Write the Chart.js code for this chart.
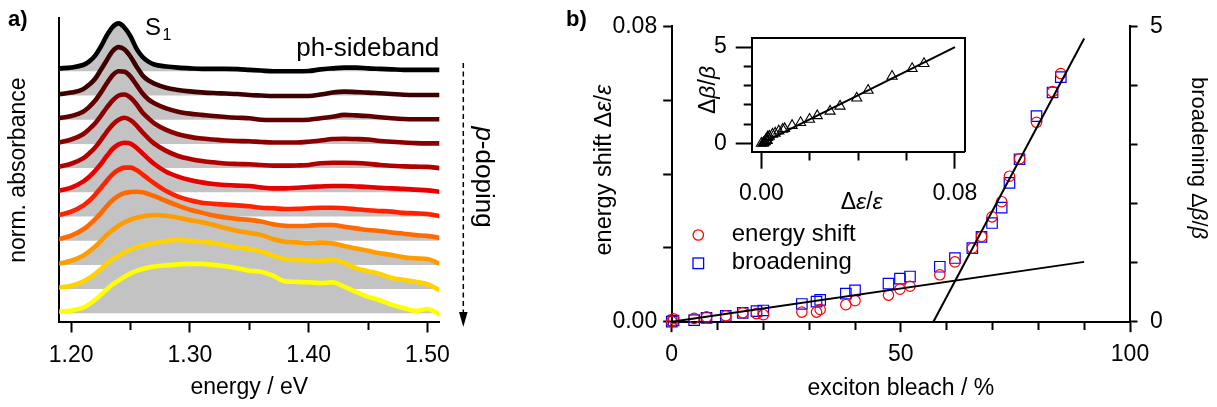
<!DOCTYPE html>
<html><head><meta charset="utf-8">
<script src="https://cdn.jsdelivr.net/npm/chart.js@4.4.1/dist/chart.umd.min.js"></script>
<style>
body{margin:0;background:#fff;}
#wrap{position:relative;width:1217px;height:407px;overflow:hidden;font-family:'Liberation Sans',Arial,sans-serif;color:#000;background:#fff;}
canvas{position:absolute;}
.t{position:absolute;white-space:nowrap;line-height:1;}
</style></head><body>
<div id="wrap">
<canvas id="ca" width="520" height="407" style="left:0;top:0"></canvas>
<canvas id="cb" width="637" height="407" style="left:580px;top:0"></canvas>
<canvas id="cc" width="300" height="200" style="left:690px;top:15px"></canvas>
<svg width="1217" height="407" style="position:absolute;left:0;top:0">
  <line x1="463.3" y1="63" x2="463.3" y2="314" stroke="#000" stroke-width="1.5" stroke-dasharray="5,3.5"/>
  <polygon points="459,312 467.6,312 463.3,327" fill="#000"/>
  <circle cx="698.3" cy="235" r="5.2" fill="none" stroke="#ff0000" stroke-width="1.3"/>
  <rect x="693" y="258" width="10.6" height="10.6" fill="none" stroke="#0000ff" stroke-width="1.3"/>
</svg>
</div>
<script>
// ---------------- panel a data ----------------
const energy = [1.19,1.20,1.21,1.215,1.22,1.225,1.23,1.235,1.24,1.245,1.25,1.255,1.26,1.265,1.27,1.28,1.29,1.30,1.31,1.32,1.33,1.34,1.35,1.36,1.37,1.38,1.39,1.40,1.41,1.42,1.43,1.44,1.45,1.46,1.47,1.48,1.49,1.50,1.51];
const spec0 = [0.06,0.08,0.13,0.20,0.32,0.51,0.74,0.92,0.99,0.90,0.72,0.47,0.30,0.20,0.14,0.10,0.075,0.06,0.05,0.05,0.05,0.045,0.03,0.015,0.0,0.0,0.0,0.005,0.04,0.06,0.075,0.075,0.06,0.05,0.04,0.03,0.03,0.03,0.03];
const spec1 = [0.025,0.06,0.13,0.22,0.34,0.53,0.73,0.92,1.0,0.95,0.80,0.60,0.42,0.31,0.245,0.16,0.115,0.085,0.065,0.05,0.04,0.03,0.01,0.0,-0.01,-0.01,-0.01,-0.01,0.02,0.06,0.08,0.07,0.06,0.045,0.03,0.015,0.01,0.01,0.01];
const spec2 = [0.03,0.075,0.165,0.26,0.39,0.56,0.75,0.92,1.0,0.99,0.89,0.72,0.545,0.42,0.34,0.235,0.165,0.125,0.10,0.075,0.055,0.04,0.03,0.0,-0.005,-0.005,-0.005,0.0,0.03,0.06,0.10,0.09,0.075,0.05,0.03,0.015,0.01,0.01,0.01];
const spec3 = [0.03,0.09,0.20,0.30,0.42,0.58,0.75,0.90,1.0,1.02,0.955,0.82,0.65,0.53,0.425,0.29,0.20,0.145,0.11,0.09,0.07,0.06,0.055,0.04,0.03,0.03,0.03,0.045,0.07,0.10,0.105,0.10,0.09,0.06,0.045,0.03,0.015,0.01,0.01];
const spec4 = [0.03,0.09,0.20,0.30,0.42,0.58,0.75,0.90,1.0,1.04,0.99,0.88,0.74,0.615,0.505,0.355,0.25,0.19,0.145,0.12,0.095,0.085,0.08,0.065,0.05,0.05,0.055,0.065,0.10,0.11,0.11,0.105,0.09,0.065,0.05,0.035,0.03,0.025,0.0];
const spec5 = [0.035,0.095,0.22,0.315,0.44,0.585,0.75,0.90,0.99,1.025,1.005,0.92,0.805,0.69,0.585,0.425,0.325,0.255,0.205,0.17,0.15,0.137,0.13,0.10,0.08,0.08,0.095,0.11,0.12,0.13,0.13,0.12,0.11,0.095,0.08,0.07,0.055,0.04,0.01];
const spec6 = [0.03,0.10,0.225,0.32,0.445,0.59,0.74,0.875,0.965,1.01,1.01,0.96,0.87,0.775,0.685,0.525,0.41,0.335,0.285,0.26,0.245,0.23,0.21,0.18,0.17,0.155,0.16,0.17,0.18,0.18,0.17,0.15,0.13,0.115,0.10,0.075,0.065,0.05,0.01];
const spec7 = [0.035,0.105,0.23,0.325,0.44,0.57,0.715,0.84,0.93,0.985,1.005,1.01,1.0,0.965,0.92,0.82,0.725,0.64,0.58,0.52,0.48,0.45,0.43,0.395,0.34,0.31,0.305,0.31,0.325,0.325,0.29,0.255,0.22,0.20,0.17,0.145,0.115,0.10,0.06];
const spec8 = [0.03,0.085,0.19,0.275,0.375,0.495,0.62,0.72,0.81,0.88,0.935,0.975,1.0,1.02,1.03,1.015,0.975,0.925,0.88,0.825,0.76,0.70,0.66,0.62,0.535,0.48,0.465,0.445,0.46,0.445,0.39,0.34,0.29,0.24,0.205,0.155,0.135,0.12,0.03];
const spec9 = [0.03,0.07,0.155,0.225,0.31,0.415,0.53,0.62,0.69,0.76,0.82,0.86,0.895,0.925,0.95,0.995,1.015,1.0,0.98,0.95,0.905,0.86,0.83,0.78,0.69,0.62,0.60,0.59,0.585,0.60,0.54,0.43,0.37,0.31,0.23,0.19,0.15,0.10,-0.02];
const spec10 = [0.035,0.055,0.115,0.185,0.275,0.38,0.495,0.60,0.675,0.755,0.825,0.875,0.915,0.945,0.965,0.99,1.01,1.02,1.02,1.0,0.97,0.93,0.88,0.86,0.78,0.66,0.65,0.64,0.625,0.64,0.55,0.44,0.34,0.27,0.175,0.11,0.05,0.09,-0.02];
const spectra = [spec0,spec1,spec2,spec3,spec4,spec5,spec6,spec7,spec8,spec9,spec10];
const curveColors = ['#000000','#3d0000','#5e0000','#880000','#b00000','#e60000','#ff2200','#ff6a00','#ff9c00','#ffd200','#ffff00'];
const energyTicks = [1.20,1.25,1.30,1.35,1.40,1.45,1.50];
const STEP = 0.5;

// ---------------- panel b data ----------------
const bleach      = [0, 0.4, 4.9, 7.6, 11.8, 15.5, 18.5, 20.0, 28.4, 31.6, 32.4, 38.0, 40.0, 47.3, 49.8, 52.0, 58.5, 61.8, 65.6, 67.6, 69.9, 72.0, 73.7, 75.9, 79.6, 83.1, 84.9];
const energyShift = [0.0, 0.0008, 0.0009, 0.0013, 0.0016, 0.0024, 0.0022, 0.0019, 0.0026, 0.0026, 0.0033, 0.0046, 0.0057, 0.0072, 0.0088, 0.0096, 0.0127, 0.0162, 0.0199, 0.0231, 0.0284, 0.0325, 0.0394, 0.0441, 0.0540, 0.0623, 0.0672];
const broadening  = [0.0, 0.02, 0.028, 0.066, 0.098, 0.148, 0.18, 0.19, 0.30, 0.34, 0.37, 0.475, 0.53, 0.645, 0.73, 0.765, 0.93, 1.078, 1.245, 1.435, 1.67, 1.93, 2.35, 2.75, 3.48, 3.88, 4.14];
const fitLowX = [0, 90],    fitLowY = [0, 0.0162];
const fitHighX = [57.1, 90], fitHighY = [0, 0.0767];
const insetFitX = [0, 0.08], insetFitY = [0, 5.0];
const bleachTicks = [0,10,20,30,40,50,60,70,80,90,100];
const shiftTicks = [0,0.02,0.04,0.06,0.08];
const broadTicks = [0,1,2,3,4,5];
const insetXTicks = [0,0.02,0.04,0.06,0.08];
const insetYTicks = [0,1,2,3,4,5];

// ---------------- setup ----------------
const FONT = "'Liberation Sans', Arial, sans-serif";
Chart.defaults.font.family = FONT;
Chart.defaults.color = '#000';
const pts = (xs, ys) => xs.map((x, i) => ({x: x, y: ys[i]}));
const near = (a, b) => Math.abs(a - b) < 1e-9;
const noPlug = {legend: {display: false}, tooltip: {enabled: false}};
// minor ticks are shortened with a dash pattern
const dashOut = (isMajor, m) => c => (c.tick && isMajor(c.tick.value)) ? [] : [m, 200];
const dashIn  = (isMajor, tl, m) => c => (c.tick && isMajor(c.tick.value)) ? [] : [0, tl - m, m, 200];

// ---------------- panel a ----------------
const isMajA = v => Math.abs(v * 10 - Math.round(v * 10)) < 1e-6;
const N = spectra.length;
new Chart(document.getElementById('ca'), {
  type: 'line',
  data: {datasets: spectra.map((s, i) => ({
    data: pts(energy, s.map(v => (N - 1 - i) * STEP + v)),
    borderColor: curveColors[i], borderWidth: 4.6, pointRadius: 0,
    fill: {value: (N - 1 - i) * STEP}, backgroundColor: '#c3c3c3',
    cubicInterpolationMode: 'monotone', borderJoinStyle: 'round', borderCapStyle: 'round'
  }))},
  options: {
    responsive: false, animation: false, events: [],
    layout: {padding: {left: 0, top: 18.3, right: 80.7, bottom: 0}, autoPadding: false},
    plugins: Object.assign({filler: {drawTime: 'beforeDatasetsDraw'}}, noPlug),
    scales: {
      x: {type: 'linear', min: 1.19, max: 1.51,
        afterBuildTicks: s => { s.ticks = energyTicks.map(v => ({value: v})); },
        afterFit: s => { s.height = 85; },
        grid: {drawOnChartArea: false, tickLength: 10.5, tickWidth: 2, tickColor: '#000', tickBorderDash: dashOut(isMajA, 7)},
        border: {color: '#000', width: 2},
        ticks: {callback: v => isMajA(v) ? v.toFixed(2) : '', font: {size: 23}, padding: 9, maxRotation: 0, autoSkip: false, color: '#000'},
        title: {display: true, text: 'energy / eV', font: {size: 23}, padding: {top: 0, bottom: 6}, color: '#000'}
      },
      y: {type: 'linear', min: -0.18, max: 6.095,
        afterFit: s => { s.width = 59.3; },
        grid: {display: false}, border: {color: '#000', width: 2},
        ticks: {display: false},
        title: {display: true, text: 'norm. absorbance', font: {size: 23}, padding: {top: 5, bottom: 0}, color: '#000'}
      }
    }
  }
});

// ---------------- panel b ----------------
const isMajB = v => near(v, 0) || near(v, 50) || near(v, 100);
const isEndS = v => near(v, 0) || near(v, 0.08);
const isEndB = v => near(v, 0) || near(v, 5);
new Chart(document.getElementById('cb'), {
  type: 'scatter',
  data: {datasets: [
    {data: pts(fitLowX, fitLowY), yAxisID: 'y', showLine: true, borderColor: '#000', borderWidth: 2, pointRadius: 0, clip: false},
    {data: pts(fitHighX, fitHighY), yAxisID: 'y', showLine: true, borderColor: '#000', borderWidth: 2, pointRadius: 0, clip: false},
    {data: pts(bleach, energyShift), yAxisID: 'y', pointStyle: 'circle', pointRadius: 5.2, borderWidth: 1.2,
     borderColor: '#ff0000', backgroundColor: 'rgba(0,0,0,0)', clip: false},
    {data: pts(bleach, broadening), yAxisID: 'y2', pointStyle: 'rect', pointRadius: 7.4, borderWidth: 1.2,
     borderColor: '#0000ff', backgroundColor: 'rgba(0,0,0,0)', clip: false}
  ]},
  options: {
    responsive: false, animation: false, events: [],
    layout: {padding: {left: 10, top: 17, right: 0, bottom: 0}, autoPadding: false},
    plugins: noPlug,
    scales: {
      x: {type: 'linear', min: 0, max: 100,
        afterBuildTicks: s => { s.ticks = bleachTicks.map(v => ({value: v})); },
        afterFit: s => { s.height = 85.3; },
        grid: {drawOnChartArea: false, tickLength: 10.5, tickWidth: 2, tickColor: '#000', tickBorderDash: dashOut(isMajB, 7)},
        border: {color: '#000', width: 2},
        ticks: {callback: v => isMajB(v) ? String(v) : '', font: {size: 23}, padding: 9, maxRotation: 0, autoSkip: false, color: '#000'},
        title: {display: true, text: 'exciton bleach / %', font: {size: 23}, padding: {top: 0, bottom: 5}, color: '#000'}
      },
      y: {type: 'linear', position: 'left', min: 0, max: 0.08,
        afterBuildTicks: s => { s.ticks = shiftTicks.map(v => ({value: v})); },
        afterFit: s => { s.width = 81.7; },
        grid: {drawOnChartArea: false, tickLength: 8.5, tickWidth: 2, tickColor: '#000'},
        border: {color: '#000', width: 2},
        ticks: {callback: v => isEndS(v) ? v.toFixed(2) : '', font: {size: 23}, padding: 6, autoSkip: false, color: '#000'}
      },
      y2: {type: 'linear', position: 'right', min: 0, max: 5,
        afterBuildTicks: s => { s.ticks = broadTicks.map(v => ({value: v})); },
        afterFit: s => { s.width = 87; },
        grid: {drawOnChartArea: false, tickLength: 7.5, tickWidth: 2, tickColor: '#000'},
        border: {color: '#000', width: 2},
        ticks: {callback: v => isEndB(v) ? String(v) : '', font: {size: 23}, padding: 12.5, autoSkip: false, color: '#000'}
      }
    }
  }
});

// ---------------- inset ----------------
const isEndIX = v => near(v, 0) || near(v, 0.08);
const isEndIY = v => near(v, 0) || near(v, 5);
const IXMIN = -0.004, IXMAX = 0.084, IYMIN = -0.431, IYMAX = 5.479;
new Chart(document.getElementById('cc'), {
  type: 'scatter',
  data: {datasets: [
    {data: pts(insetFitX, insetFitY), showLine: true, borderColor: '#000', borderWidth: 2, pointRadius: 0, clip: false},
    {data: pts(energyShift, broadening), pointStyle: 'triangle', pointRadius: 5.8, borderWidth: 1.1,
     borderColor: '#000', backgroundColor: 'rgba(0,0,0,0)', clip: false}
  ]},
  options: {
    responsive: false, animation: false, events: [],
    layout: {padding: {left: 0, top: 13.3, right: 17.7, bottom: 0}, autoPadding: false},
    plugins: noPlug,
    scales: {
      x: {type: 'linear', position: 'bottom', min: IXMIN, max: IXMAX,
        afterBuildTicks: s => { s.ticks = insetXTicks.map(v => ({value: v})); },
        afterFit: s => { s.height = 63.3; },
        grid: {drawOnChartArea: false, tickLength: 17, tickWidth: 2, tickColor: '#000', tickBorderDash: dashOut(isEndIX, 7.5)},
        border: {color: '#000', width: 2},
        ticks: {callback: v => isEndIX(v) ? v.toFixed(2) : '', font: {size: 23}, padding: 11.5, maxRotation: 0, autoSkip: false, color: '#000'}
      },
      y: {type: 'linear', position: 'left', min: IYMIN, max: IYMAX,
        afterBuildTicks: s => { s.ticks = insetYTicks.map(v => ({value: v})); },
        afterFit: s => { s.width = 61.7; },
        grid: {drawOnChartArea: false, tickLength: 16, tickWidth: 2, tickColor: '#000', tickBorderDash: dashIn(isEndIY, 16, 8)},
        border: {color: '#000', width: 2},
        ticks: {callback: v => isEndIY(v) ? String(v) : '', font: {size: 23}, padding: 9, autoSkip: false, color: '#000'}
      },
      xTop: {type: 'linear', position: 'top', min: IXMIN, max: IXMAX,
        afterFit: s => { s.height = 0; },
        grid: {display: false}, ticks: {display: false}, border: {color: '#000', width: 2}},
      yRight: {type: 'linear', position: 'right', min: IYMIN, max: IYMAX,
        afterFit: s => { s.width = 0; },
        grid: {display: false}, ticks: {display: false}, border: {color: '#000', width: 2}}
    }
  }
});

// ---------------- text annotations ----------------
const wrap = document.getElementById('wrap');
function txt(html, x, base, fs, opt) {
  opt = opt || {};
  const d = document.createElement('div');
  d.className = 't';
  d.innerHTML = html;
  d.style.fontSize = fs + 'px';
  if (opt.bold) d.style.fontWeight = 'bold';
  d.style.top = (base - 0.8465 * fs) + 'px';
  if (opt.align === 'right') { d.style.right = (1217 - x) + 'px'; }
  else if (opt.align === 'center') { d.style.left = x + 'px'; d.style.transform = 'translateX(-50%)'; }
  else { d.style.left = x + 'px'; }
  wrap.appendChild(d);
}
function rtxt(html, cx, cy, fs, deg) {
  const d = document.createElement('div');
  d.className = 't';
  d.innerHTML = html;
  d.style.fontSize = fs + 'px';
  d.style.left = cx + 'px';
  d.style.top = cy + 'px';
  d.style.transform = 'translate(-50%,-50%) rotate(' + deg + 'deg)';
  wrap.appendChild(d);
}
txt('a)', 8, 27, 22, {bold: true});
txt('b)', 566, 27, 22, {bold: true});
txt('S', 145, 35, 24);
txt('1', 162.5, 40.5, 16);
txt('ph-sideband', 439.3, 56.5, 26, {align: 'right'});
rtxt('<i>p</i>-doping', 485, 177, 26, 90);
txt('energy shift', 731.7, 241.5, 24);
txt('broadening', 731.7, 269.5, 24);
rtxt('energy shift &Delta;<i>&epsilon;</i>/<i>&epsilon;</i>', 604, 170, 23.5, -90);
rtxt('broadening &Delta;<i>&beta;</i>/<i>&beta;</i>', 1199, 157.5, 22, 90);
rtxt('&Delta;<i>&beta;</i>/<i>&beta;</i>', 707, 90, 23, -90);
txt('&Delta;<i>&epsilon;</i>/<i>&epsilon;</i>', 861.7, 209, 23, {align: 'center'});
</script>
</body></html>
